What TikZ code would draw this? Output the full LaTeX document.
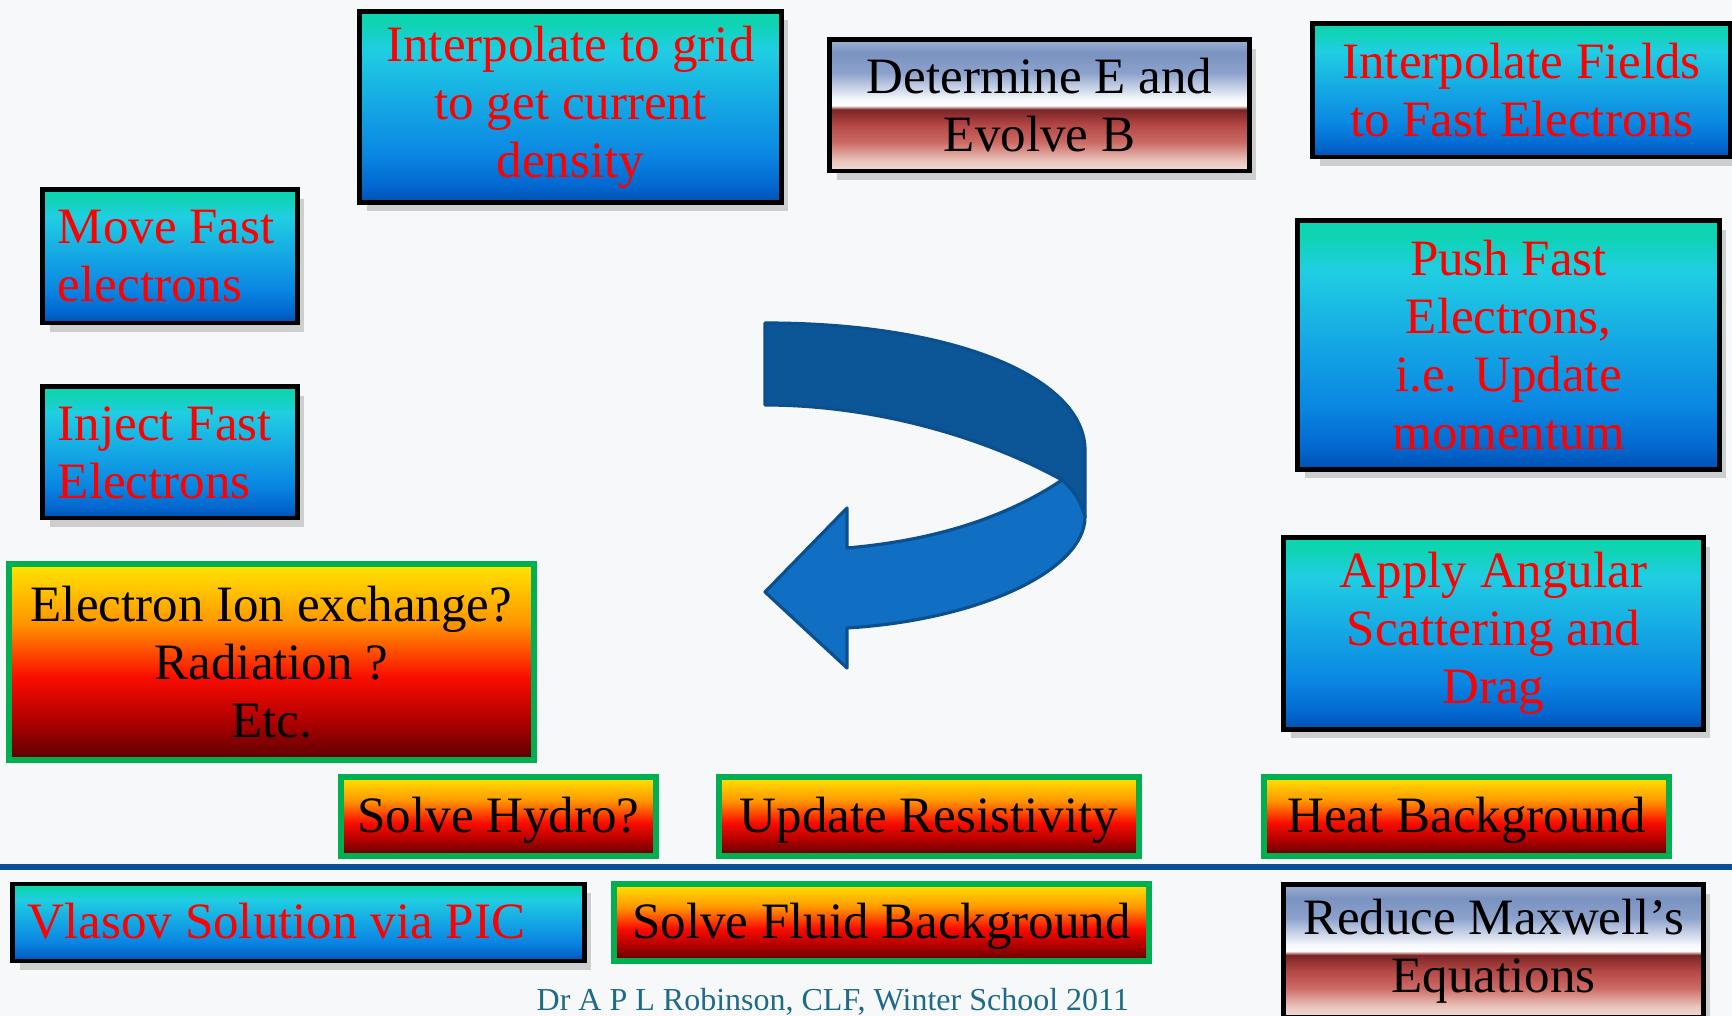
\documentclass[tikz,border=0pt]{standalone}
\usepackage{fontspec}
\setmainfont{Liberation Serif}
\usepackage{tikz}
\tikzset{>=latex}
\usetikzlibrary{shadows}

\definecolor{pagebg}{RGB}{247,248,249}
\definecolor{tealtop}{RGB}{14,212,178}
\definecolor{cyanmid}{RGB}{32,206,226}
\definecolor{bluemid}{RGB}{20,166,228}
\definecolor{bluelow}{RGB}{10,134,226}
\definecolor{bluedeep}{RGB}{2,102,206}
\definecolor{bluebot}{RGB}{0,80,176}
\definecolor{fireyel}{RGB}{255,230,0}
\definecolor{fireorg}{RGB}{255,150,0}
\definecolor{firered}{RGB}{250,12,0}
\definecolor{firedark}{RGB}{176,0,0}
\definecolor{firebot}{RGB}{90,0,0}
\definecolor{flagtop}{RGB}{156,176,212}
\definecolor{flagblue}{RGB}{122,146,192}
\definecolor{flagpale}{RGB}{140,162,204}
\definecolor{flagwhite}{RGB}{245,247,251}
\definecolor{flagred}{RGB}{122,36,36}
\definecolor{flagmid}{RGB}{180,72,70}
\definecolor{flagrose}{RGB}{204,106,102}
\definecolor{flagpink}{RGB}{234,196,188}
\definecolor{flagbot}{RGB}{242,221,214}
\definecolor{greenrim}{RGB}{0,176,80}
\definecolor{arrowback}{RGB}{12,86,152}
\definecolor{arrowfront}{RGB}{16,111,195}
\definecolor{arrowrim}{RGB}{10,79,142}
\definecolor{rulecol}{RGB}{11,80,150}
\definecolor{footcol}{RGB}{31,107,135}

\pgfdeclareverticalshading{bluefade}{100bp}{color(0bp)=(bluebot); color(25bp)=(bluebot);
  color(29bp)=(bluedeep); color(37.5bp)=(bluelow); color(50bp)=(bluemid);
  color(65bp)=(cyanmid); color(72bp)=(tealtop); color(75bp)=(tealtop); color(100bp)=(tealtop)}
\pgfdeclareverticalshading{firefade}{100bp}{color(0bp)=(firebot); color(25bp)=(firebot);
  color(35bp)=(firedark); color(46bp)=(firered); color(60bp)=(fireorg);
  color(75bp)=(fireyel); color(100bp)=(fireyel)}
\pgfdeclareverticalshading{flagfade}{100bp}{color(0bp)=(flagbot); color(25bp)=(flagbot);
  color(29bp)=(flagpink); color(36bp)=(flagrose); color(42.5bp)=(flagmid);
  color(48.5bp)=(flagred); color(50bp)=(white); color(52.5bp)=(flagwhite);
  color(62.5bp)=(flagpale); color(70bp)=(flagblue); color(75bp)=(flagtop); color(100bp)=(flagtop)}

\newcommand\boxfont{\fontsize{14.5pt}{16.5pt}\selectfont}

\begin{document}
\begin{tikzpicture}[x=0.01cm,y=-0.01cm]
      \tikzstyle{shadowed}=[drop shadow={shadow xshift=2pt,shadow yshift=-2.5pt,opacity=.35}];
      \tikzstyle{bluebox}=[shadowed,draw=black,line width=1.4pt,shading=bluefade,text=red,inner sep=0pt,font=\boxfont];
      \tikzstyle{flagbox}=[shadowed,draw=black,line width=1.4pt,shading=flagfade,text=black,inner sep=0pt,font=\boxfont];
      \tikzstyle{firebox}=[draw=greenrim,line width=1.7pt,shading=firefade,text=black,inner sep=0pt,font=\boxfont];
      \tikzstyle{leftbox}=[inner xsep=0.15cm,align=flush left];
      \tikzstyle{oneline}=[text height=10pt,text depth=1pt];

      \useasboundingbox (0,0) rectangle (1732,1016);
      \clip (0,0) rectangle (1732,1016);
      \fill[pagebg] (0,0) rectangle (1732,1016);

      % upper row
      \node[bluebox,minimum width=4.21cm,minimum height=1.91cm,align=center] (grid) at (570.5,107)
        {Interpolate to grid\\to get current\\density};
      \node[flagbox,minimum width=4.19cm,minimum height=1.31cm,align=center] (fieldsolve) at (1039.5,105.5)
        {Determine E and\\Evolve B};
      \node[bluebox,minimum width=4.17cm,minimum height=1.33cm,align=center] (interpfields) at (1521.5,90.5)
        {Interpolate Fields\\to Fast Electrons};

      % left column
      \node[bluebox,leftbox,text width=2.24cm,minimum height=1.33cm] (move) at (170,256.5)
        {Move Fast\\electrons};
      \node[bluebox,leftbox,text width=2.24cm,minimum height=1.31cm] (inject) at (170,452.5)
        {Inject Fast\\Electrons};
      \node[firebox,minimum width=5.25cm,minimum height=1.96cm,align=center] (exchange) at (271.5,662)
        {Electron Ion exchange?\\Radiation ?\\Etc.};

      % right column
      \node[bluebox,minimum width=4.21cm,minimum height=2.48cm,align=center] (push) at (1508.5,345)
        {Push Fast\\Electrons,\\i.e. Update\\momentum};
      \node[bluebox,minimum width=4.19cm,minimum height=1.91cm,align=center] (scatter) at (1493.5,633.5)
        {Apply Angular\\Scattering and\\Drag};

      % background row
      \node[firebox,oneline,minimum width=3.15cm,minimum height=0.79cm] (hydro) at (498.5,816.5) {Solve Hydro?};
      \node[firebox,oneline,minimum width=4.20cm,minimum height=0.79cm] (resist) at (929,816.5) {Update Resistivity};
      \node[firebox,oneline,minimum width=4.05cm,minimum height=0.79cm] (heat) at (1466.5,816.5) {Heat Background};

      \draw[rulecol,line width=1.8pt] (0,867) -- (1732,867);

      % legend row
      \node[bluebox,leftbox,oneline,text width=5.41cm,minimum height=0.77cm] (vlasov) at (298.5,922.5)
        {Vlasov Solution via PIC};
      \node[firebox,oneline,minimum width=5.35cm,minimum height=0.77cm] (fluid) at (881.5,922.5)
        {Solve Fluid Background};
      \node[flagbox,minimum width=4.19cm,minimum height=1.32cm,align=center] (maxwell) at (1493.5,951)
        {Reduce Maxwell’s\\Equations};

      \node[footcol,font=\fontsize{9.1pt}{11pt}\selectfont,anchor=base west,inner sep=0pt] (credit) at (536,1011)
        {Dr A P L Robinson, CLF, Winter School 2011};

      % the cycle arrow
      \filldraw[fill=arrowback,draw=arrowrim,line width=0.9pt,line join=round]
        (765,323) .. controls (960,323) and (1085,380) .. (1085,450) -- (1085,517)
        .. controls (1082,505) and (1076,492) .. (1062,480)
        .. controls (990,440) and (880,405) .. (765,405) -- cycle;
      \filldraw[fill=arrowfront,draw=arrowrim,line width=0.9pt,line join=round]
        (1062,480) .. controls (1010,515) and (940,540) .. (847,548)
        -- (847,508) -- (765,592) -- (847,668) -- (847,628)
        .. controls (980,620) and (1085,570) .. (1085,517)
        .. controls (1082,505) and (1076,492) .. cycle;
    \end{tikzpicture}
\end{document}
